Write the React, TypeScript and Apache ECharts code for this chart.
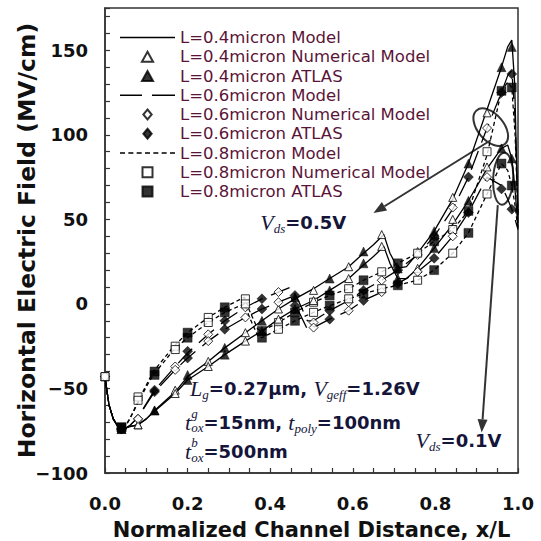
import React, { useEffect, useRef } from 'react';
import * as echarts from 'echarts';

// ---- Model curves (normalized position x/L, field in MV/cm) ----
// Upper set: Vds = 0.5 V, lower set: Vds = 0.1 V
const xModel04 = [0, 0.005, 0.01, 0.02, 0.03, 0.04, 0.05, 0.06, 0.08, 0.10, 0.12, 0.17, 0.20, 0.25, 0.29, 0.34, 0.38, 0.42, 0.46, 0.505, 0.544, 0.59, 0.626, 0.65, 0.675, 0.69, 0.709, 0.73, 0.757, 0.797, 0.842, 0.88, 0.925, 0.96, 0.975, 0.985, 0.992, 1.0];
const model04Vds05 = [-43, -52, -60, -68, -72, -74, -73.5, -72.5, -71.5, -68, -63, -52, -43, -34, -26, -17, -10, -3, 3, 9, 15, 22, 30, 35, 41, 30, 21, 22, 30, 43, 62, 83, 115, 140, 152, 156, 130, 48];
const model04Vds01 = [-43, -52, -60, -68, -72, -74, -73.5, -72.5, -71.5, -68, -63.5, -53, -45, -37, -30, -22, -16, -9, -3, 2, 8, 15, 23, 28, 34, 24, 15, 15, 21, 33, 47, 61, 80, 92, 94, 86, 70, 45];

const xModel06 = [0, 0.005, 0.01, 0.02, 0.03, 0.04, 0.05, 0.06, 0.08, 0.10, 0.12, 0.17, 0.20, 0.25, 0.29, 0.34, 0.38, 0.42, 0.45, 0.47, 0.49, 0.505, 0.544, 0.59, 0.626, 0.67, 0.709, 0.757, 0.797, 0.842, 0.88, 0.925, 0.96, 0.975, 0.985, 0.993, 1.0];
const model06Vds05 = [-43, -52, -60, -68, -72, -74, -73.5, -72, -67, -59, -51, -37, -29, -18, -10, -2, 3, 7, 10, 1, -10, -10, -4, 2, 8, 14, 20, 29, 40, 56, 75, 104, 125, 135, 138, 110, 52];
const model06Vds01 = [-43, -52, -60, -68, -72, -74, -73.5, -72, -67, -59.5, -52, -39, -32, -22, -15, -8, -3, 1, 4, -5, -15, -14, -9, -4, 2, 7, 12, 19, 27, 40, 54, 75, 70, 62, 56, 50, 44];

const xModel08 = [0, 0.005, 0.01, 0.02, 0.03, 0.04, 0.05, 0.06, 0.083, 0.10, 0.117, 0.167, 0.20, 0.25, 0.29, 0.3375, 0.35, 0.37, 0.38, 0.42, 0.46, 0.505, 0.544, 0.59, 0.626, 0.67, 0.709, 0.757, 0.797, 0.842, 0.88, 0.925, 0.96, 0.975, 0.985, 0.993, 1.0];
const model08Vds05 = [-43, -52, -60, -68, -72, -73, -72, -68, -56, -48, -40, -25, -17, -8, -2, 4, -4, -15, -16, -11, -5, 1, 5, 9, 14, 19, 24, 30, 37, 44, 55, 88, 126, 131, 128, 100, 52];
const model08Vds01 = [-43, -52, -60, -68, -72, -73, -72, -68, -57, -49, -42, -27, -20, -11, -5, 0, -8, -19, -20, -15, -10, -5, -1, 3, 6, 9, 11, 14, 20, 30, 42, 65, 83, 79, 70, 58, 44];

// ---- Numerical model points (hollow markers) ----
const xNumerical = [0, 0.08, 0.17, 0.25, 0.34, 0.42, 0.505, 0.59, 0.67, 0.757, 0.842, 0.925];
const num04Vds05 = [-43, -71.5, -51, -34, -17, -3, 8, 22, 41, 31, 63, 113];
const num04Vds01 = [-43, -71.5, -53, -37, -22, -9, 2, 15, 34, 21, 50, 81];
const num06Vds05 = [-43, -68, -37, -18, -2, 7, -11, 1, 14, 29, 57, 104];
const num06Vds01 = [-43, -68, -39, -22, -8, 1, -14, -4, 7, 19, 40, 75];
const num08Vds05 = [-43, -55, -25, -8, 3, -11, 1, 9, 19, 30, 44, 90];
const num08Vds01 = [-43, -57, -27, -11, 0, -15, -5, 3, 9, 14, 30, 65];

// ---- ATLAS device simulation points (filled markers) ----
const xAtlas = [0.04, 0.12, 0.20, 0.29, 0.38, 0.46, 0.544, 0.626, 0.709, 0.797, 0.88, 0.96, 0.985];
const atl04Vds05 = [-74, -63, -42, -26, -10, 4, 15, 31, 21, 43, 83, 140, 152];
const atl04Vds01 = [-74, -63, -45, -30, -16, -3, 8, 24, 15, 33, 61, 92, 86];
const atl06Vds05 = [-74, -51, -28, -10, 3, 5, -4, 8, 20, 40, 75, 125, 136];
const atl06Vds01 = [-74, -52, -32, -15, -3, -1, -9, 2, 12, 27, 54, 68, 56];
const atl08Vds05 = [-73, -40, -17, -2, -16, -5, 5, 14, 24, 37, 55, 126, 128];
const atl08Vds01 = [-73, -42, -20, -5, -20, -10, -1, 6, 11, 20, 42, 83, 70];

const legendNames = [
  'L=0.4micron Model',
  'L=0.4micron Numerical Model',
  'L=0.4micron ATLAS',
  'L=0.6micron Model',
  'L=0.6micron Numerical Model',
  'L=0.6micron ATLAS',
  'L=0.8micron Model',
  'L=0.8micron Numerical Model',
  'L=0.8micron ATLAS',
];

const INK = '#000';
const TEXT_INK = '#15153a';
const LEGEND_INK = '#5a1438';

// legend glyphs: line samples built from filled strips, markers as shapes
const ICON_SOLID = 'path://M0,0h55v1.6h-55z';
const ICON_LONG = 'path://M0,0h22v1.6h-22z M32,0h23v1.6h-23z';
const ICON_SHORT =
  'path://M0,0h5v1.6h-5z M8.3,0h5v1.6h-5z M16.6,0h5v1.6h-5z M24.9,0h5v1.6h-5z M33.2,0h5v1.6h-5z M41.5,0h5v1.6h-5z M49.8,0h5v1.6h-5z';
const ICON_TRI = 'path://M5,0L10,9L0,9Z';
const ICON_DIAMOND = 'path://M5,0L10,6L5,12L0,6Z';
const ICON_SQUARE = 'path://M0,0H10V10H0Z';
const legendIcons = [ICON_SOLID, ICON_TRI, ICON_TRI, ICON_LONG, ICON_DIAMOND, ICON_DIAMOND, ICON_SHORT, ICON_SQUARE, ICON_SQUARE];

const zip = (xs: number[], ys: number[]) => xs.map((x, i) => [x, ys[i]]);

const modelLine = (name: string, xs: number[], ys: number[], dash: any) => ({
  type: 'line',
  name,
  data: zip(xs, ys),
  symbol: 'none',
  silent: true,
  z: 2,
  itemStyle: { color: INK },
  lineStyle: { color: INK, width: 1.3, type: dash },
});

const markers = (name: string, xs: number[], ys: number[], symbol: string, size: number, filled: boolean) => ({
  type: 'scatter',
  name,
  data: zip(xs, ys),
  symbol,
  symbolSize: size,
  silent: true,
  z: 3,
  itemStyle: filled
    ? { color: INK, borderColor: INK, borderWidth: 0.5 }
    : { color: '#fff', borderColor: INK, borderWidth: 1 },
});

const LONG_DASH = [20, 9];
const SHORT_DASH = [4, 3];

// runs of text with italic variables and sub/superscripts
type Run = { t: string; f: 'v' | 's' | 'n'; dy?: number; hold?: boolean };
const FONTS: Record<string, string> = {
  v: 'italic 22px "Liberation Serif"',
  s: 'italic 13px "Liberation Serif"',
  n: 'bold 18px "DejaVu Sans"',
};

export default function App() {
  const ref = useRef<HTMLDivElement>(null);

  useEffect(() => {
    const el = ref.current!;
    const chart = echarts.init(el, null, { renderer: 'svg' });

    const series: any[] = [
      modelLine(legendNames[0], xModel04, model04Vds05, 'solid'),
      markers(legendNames[1], xNumerical, num04Vds05, 'triangle', 8, false),
      markers(legendNames[2], xAtlas, atl04Vds05, 'triangle', 9, true),
      modelLine(legendNames[3], xModel06, model06Vds05, LONG_DASH),
      markers(legendNames[4], xNumerical, num06Vds05, 'diamond', 9, false),
      markers(legendNames[5], xAtlas, atl06Vds05, 'diamond', 10, true),
      modelLine(legendNames[6], xModel08, model08Vds05, SHORT_DASH),
      markers(legendNames[7], xNumerical, num08Vds05, 'rect', 8, false),
      markers(legendNames[8], xAtlas, atl08Vds05, 'rect', 9, true),
      modelLine(legendNames[0], xModel04, model04Vds01, 'solid'),
      markers(legendNames[1], xNumerical, num04Vds01, 'triangle', 8, false),
      markers(legendNames[2], xAtlas, atl04Vds01, 'triangle', 9, true),
      modelLine(legendNames[3], xModel06, model06Vds01, LONG_DASH),
      markers(legendNames[4], xNumerical, num06Vds01, 'diamond', 9, false),
      markers(legendNames[5], xAtlas, atl06Vds01, 'diamond', 10, true),
      modelLine(legendNames[6], xModel08, model08Vds01, SHORT_DASH),
      markers(legendNames[7], xNumerical, num08Vds01, 'rect', 8, false),
      markers(legendNames[8], xAtlas, atl08Vds01, 'rect', 9, true),
    ];

    const axisText = { fontFamily: 'DejaVu Sans', fontWeight: 'bold', fontSize: 18, color: '#111' };

    chart.setOption({
      animation: false,
      backgroundColor: '#fff',
      grid: {
        left: 105, right: 23, top: 8, bottom: 68,
        outerBoundsMode: 'none', containLabel: false,
        show: true, borderColor: '#333', borderWidth: 1.5,
      },
      legend: {
        data: legendNames.map((name, i) => ({ name, icon: legendIcons[i] })),
        orient: 'vertical',
        left: 115,
        top: 24,
        itemWidth: 55,
        itemHeight: 10,
        itemGap: 2.25,
        symbolKeepAspect: true,
        selectedMode: false,
        textStyle: { fontFamily: 'DejaVu Sans', fontSize: 16.5, color: LEGEND_INK },
      },
      xAxis: {
        type: 'value',
        min: 0,
        max: 1,
        interval: 0.05,
        name: 'Normalized Channel Distance, x/L',
        nameLocation: 'middle',
        nameGap: 46,
        nameMoveOverlap: false,
        nameTextStyle: { fontFamily: 'DejaVu Sans', fontWeight: 'bold', fontSize: 21, color: '#111' },
        axisLine: { onZero: false, lineStyle: { color: '#333', width: 1.5 } },
        axisTick: { inside: true, length: 5, lineStyle: { color: '#333', width: 1.2 } },
        splitLine: { show: false },
        axisLabel: {
          ...axisText,
          margin: 21,
          formatter: (v: number) => (Math.abs(v * 5 - Math.round(v * 5)) < 1e-6 ? v.toFixed(1) : ''),
        },
      },
      yAxis: {
        type: 'value',
        min: -100,
        max: 175,
        interval: 10,
        name: 'Horizontal Electric Field (MV/cm)',
        nameLocation: 'middle',
        nameGap: 66,
        nameMoveOverlap: false,
        nameTextStyle: { fontFamily: 'DejaVu Sans', fontWeight: 'bold', fontSize: 23.5, color: '#111' },
        axisLine: { onZero: false, lineStyle: { color: '#333', width: 1.5 } },
        axisTick: { inside: true, length: 5, lineStyle: { color: '#333', width: 1.2 } },
        splitLine: { show: false },
        axisLabel: {
          ...axisText,
          margin: 17,
          formatter: (v: number) => (v % 50 === 0 ? (v < 0 ? '\u2212' + Math.abs(v) : String(v)) : ''),
        },
      },
      series,
    });

    // ---- annotations: ellipses, arrows and the text block ----
    const px = (x: number, y: number) => chart.convertToPixel({ gridIndex: 0 }, [x, y]) as number[];
    const ctx = document.createElement('canvas').getContext('2d')!;

    const layout = (runs: Run[], x0: number, y0: number) => {
      let x = x0;
      const out: any[] = [];
      for (const r of runs) {
        ctx.font = FONTS[r.f];
        const w = ctx.measureText(r.t).width;
        out.push({
          type: 'text',
          x,
          y: y0 + (r.dy || 0),
          silent: true,
          style: {
            text: r.t,
            font: FONTS[r.f],
            fill: TEXT_INK,
            align: 'left',
            verticalAlign: 'middle',
            textAlign: 'left',
            textVerticalAlign: 'middle',
          },
        });
        if (!r.hold) x += w;
      }
      return out;
    };

    const arrow = (from: number[], to: number[]) => {
      const [x1, y1] = px(from[0], from[1]);
      const [x2, y2] = px(to[0], to[1]);
      const ang = Math.atan2(y2 - y1, x2 - x1);
      const len = 13;
      const half = 5;
      const bx = x2 - len * Math.cos(ang);
      const by = y2 - len * Math.sin(ang);
      const nx = -Math.sin(ang);
      const ny = Math.cos(ang);
      return [
        { type: 'line', silent: true, shape: { x1, y1, x2: bx, y2: by }, style: { stroke: '#333', lineWidth: 2 } },
        {
          type: 'polygon',
          silent: true,
          shape: { points: [[x2, y2], [bx + nx * half, by + ny * half], [bx - nx * half, by - ny * half]] },
          style: { fill: '#333' },
        },
      ];
    };

    const e1 = px(0.934, 104.5);
    const e2 = px(0.964, 74);
    const p05 = px(0.376, 48);
    const p01 = px(0.752, -81);
    const gA = px(0.206, -50);
    const gB = px(0.194, -70);
    const gC = px(0.194, -87.5);

    const graphic: any[] = [
      {
        type: 'ellipse', silent: true, x: e1[0], y: e1[1], rotation: -0.87,
        shape: { cx: 0, cy: 0, rx: 22, ry: 13 }, style: { fill: 'none', stroke: '#333', lineWidth: 2 },
      },
      {
        type: 'ellipse', silent: true, x: e2[0], y: e2[1], rotation: -0.05,
        shape: { cx: 0, cy: 0, rx: 10, ry: 26 }, style: { fill: 'none', stroke: '#333', lineWidth: 2 },
      },
      ...arrow([0.934, 96.8], [0.65, 53.7]),
      ...arrow([0.951, 58.4], [0.912, -76]),
      ...layout([{ t: 'V', f: 'v' }, { t: 'ds', f: 's', dy: 6 }, { t: '=0.5V', f: 'n' }], p05[0], p05[1]),
      ...layout([{ t: 'V', f: 'v' }, { t: 'ds', f: 's', dy: 6 }, { t: '=0.1V', f: 'n' }], p01[0], p01[1]),
      ...layout([
        { t: 'L', f: 'v' }, { t: 'g', f: 's', dy: 6 }, { t: '=0.27µm, ', f: 'n' },
        { t: 'V', f: 'v' }, { t: 'geff', f: 's', dy: 6 }, { t: '=1.26V', f: 'n' },
      ], gA[0], gA[1]),
      ...layout([
        { t: 't', f: 'v' }, { t: 'g', f: 's', dy: -9, hold: true }, { t: 'ox', f: 's', dy: 5 }, { t: '=15nm, ', f: 'n' },
        { t: 't', f: 'v' }, { t: 'poly', f: 's', dy: 6 }, { t: '=100nm', f: 'n' },
      ], gB[0], gB[1]),
      ...layout([
        { t: 't', f: 'v' }, { t: 'b', f: 's', dy: -9, hold: true }, { t: 'ox', f: 's', dy: 6 }, { t: '=500nm', f: 'n' },
      ], gC[0], gC[1]),
    ];

    chart.setOption({ graphic });

    return () => chart.dispose();
  }, []);

  return (
    <div
      ref={ref}
      style={{ position: 'fixed', left: 0, top: 0, width: 541, height: 541, background: '#fff' }}
    />
  );
}
